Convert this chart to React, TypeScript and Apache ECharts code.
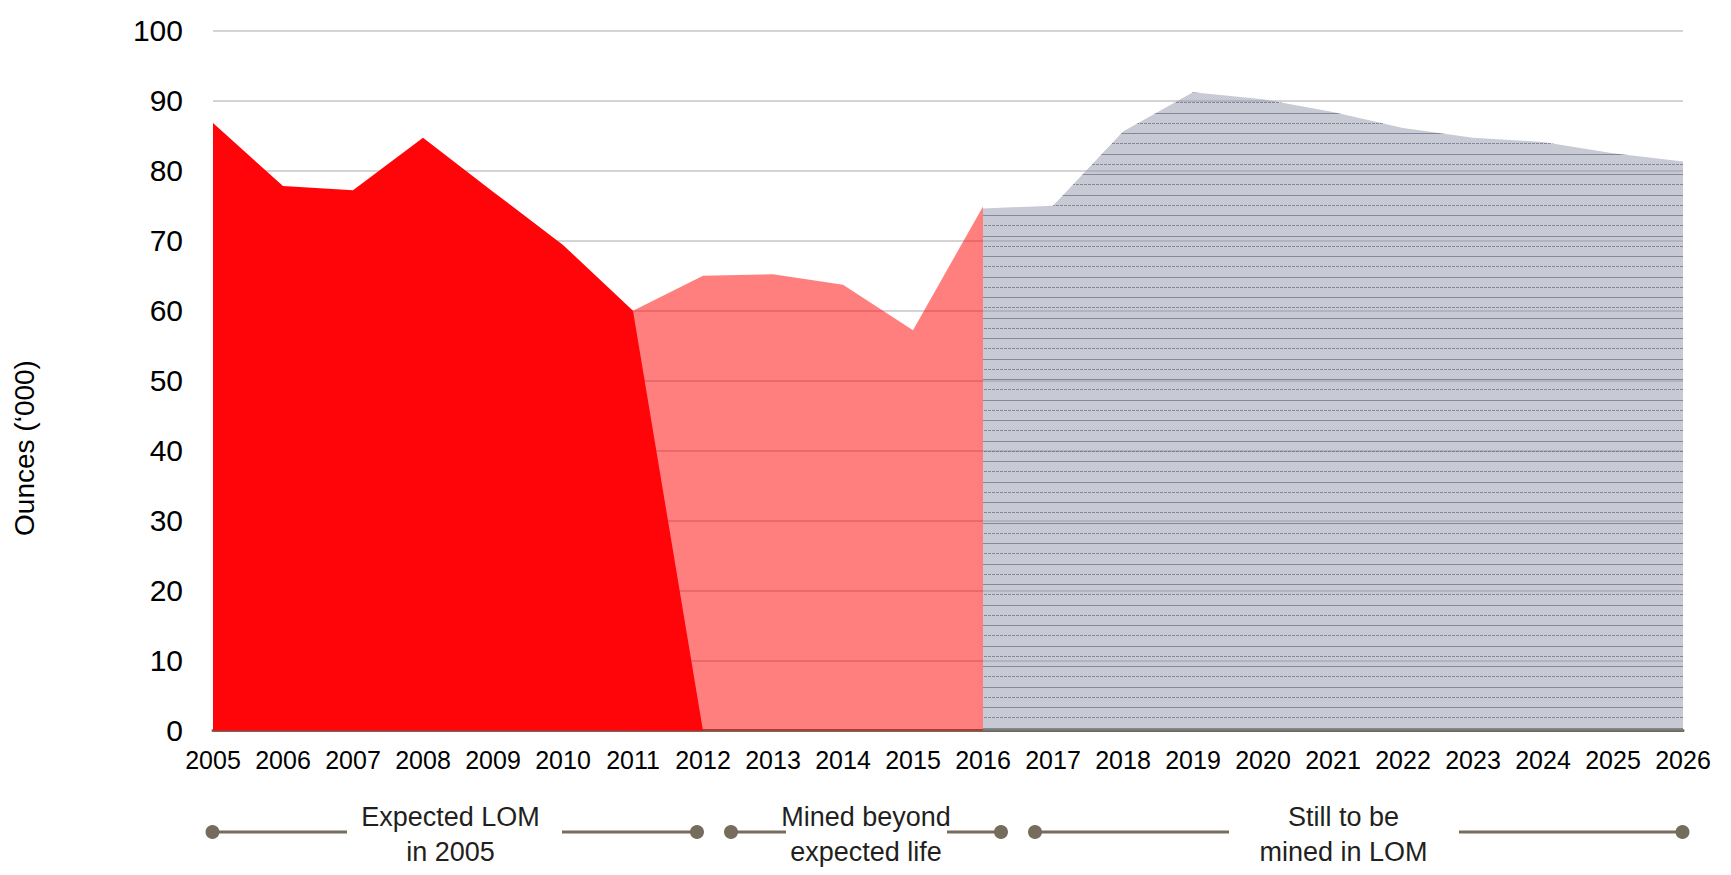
import React, { useEffect, useRef } from "react";
import * as echarts from "echarts";

const years = ["2005","2006","2007","2008","2009","2010","2011","2012","2013","2014","2015","2016","2017","2018","2019","2020","2021","2022","2023","2024","2025","2026"];
const expectedLom = [86.8, 77.8, 77.2, 84.7, 77.0, 69.4, 60.0, 0, null, null, null, null, null, null, null, null, null, null, null, null, null, null];
const minedBeyond = [null, null, null, null, null, null, 60.0, 65.0, 65.2, 63.7, 57.2, 74.9, null, null, null, null, null, null, null, null, null, null];
const stillToMine = [null, null, null, null, null, null, null, null, null, null, null, 74.6, 75.0, 85.6, 91.2, 90.2, 88.4, 86.1, 84.7, 84.1, 82.5, 81.3];
const bracketLabels = ["Expected LOM\nin 2005", "Mined beyond\nexpected life", "Still to be\nmined in LOM"];

const FONT = "Arial, 'Liberation Sans', sans-serif";
const BRACKET = "#766c5c";

function makeGreyPattern(): HTMLCanvasElement {
  const c = document.createElement("canvas");
  c.width = 4;
  c.height = 41;
  const ctx = c.getContext("2d")!;
  for (let y = 0; y < c.height; y++) {
    for (let x = 0; x < c.width; x++) {
      const a = (x + y) % 2 === 0 ? 0.5 : 0.46;
      ctx.fillStyle = `rgba(140,146,165,${a})`;
      ctx.fillRect(x, y, 1, 1);
    }
  }
  ctx.fillStyle = "rgba(65,69,97,0.5)";
  [0, 10, 20, 31].forEach((y, i) => {
    if (i % 2 === 1) {
      ctx.fillRect(0, y, 4, 1);
    } else {
      ctx.fillRect(0, y, 3, 1);
    }
  });
  return c;
}

function bracket(x1: number, x2: number, gapL: number, gapR: number, y: number, label: string, cx: number) {
  const lineStyle = { stroke: BRACKET, lineWidth: 3 };
  return [
    { type: "line", shape: { x1, y1: y, x2: gapL, y2: y }, style: lineStyle, silent: true },
    { type: "line", shape: { x1: gapR, y1: y, x2, y2: y }, style: lineStyle, silent: true },
    { type: "circle", shape: { cx: x1, cy: y, r: 7 }, style: { fill: BRACKET }, silent: true },
    { type: "circle", shape: { cx: x2, cy: y, r: 7 }, style: { fill: BRACKET }, silent: true },
    {
      type: "text",
      x: cx,
      y: y + 2,
      style: {
        text: label,
        fill: "#231f20",
        font: `27px ${FONT}`,
        fontSize: 27,
        fontFamily: FONT,
        lineHeight: 35,
        align: "center",
        verticalAlign: "middle",
      },
      silent: true,
    },
  ];
}

export default function App() {
  const ref = useRef<HTMLDivElement>(null);
  useEffect(() => {
    document.body.style.margin = "0";
    const chart = echarts.init(ref.current!, undefined, { renderer: "svg" });
    const greyPattern = makeGreyPattern();
    const by = 832;
    chart.setOption({
      animation: false,
      backgroundColor: "#ffffff",
      grid: { left: 213, right: 48, top: 30.7, bottom: 144.3, containLabel: false },
      xAxis: {
        type: "category",
        data: years,
        boundaryGap: false,
        axisLine: { show: true, lineStyle: { color: "#716857", width: 3 } },
        axisTick: { show: false },
        axisLabel: { color: "#000", fontSize: 25, fontFamily: FONT, margin: 17, interval: 0 },
        splitLine: { show: false },
      },
      yAxis: {
        type: "value",
        min: 0,
        max: 100,
        interval: 10,
        axisLine: { show: false },
        axisTick: { show: false },
        axisLabel: { color: "#000", fontSize: 30, fontFamily: FONT, margin: 30 },
        splitLine: { show: true, lineStyle: { color: "#c8c4c6", width: 1.5 } },
      },
      series: [
        {
          name: "Still to be mined in LOM",
          type: "line",
          data: stillToMine,
          showSymbol: false,
          symbol: "none",
          lineStyle: { width: 0, opacity: 0 },
          areaStyle: { color: { image: greyPattern, repeat: "repeat" }, opacity: 1 },
          z: 2,
        },
        {
          name: "Mined beyond expected life",
          type: "line",
          data: minedBeyond,
          showSymbol: false,
          symbol: "none",
          lineStyle: { width: 0, opacity: 0 },
          areaStyle: { color: "#ff0000", opacity: 0.5 },
          z: 3,
        },
        {
          name: "Expected LOM in 2005",
          type: "line",
          data: expectedLom,
          showSymbol: false,
          symbol: "none",
          lineStyle: { width: 0, opacity: 0 },
          areaStyle: { color: "#ff0509", opacity: 1 },
          z: 4,
        },
      ],
      graphic: [
        {
          type: "text",
          x: 24,
          y: 448,
          rotation: Math.PI / 2,
          style: {
            text: "Ounces (\u2018000)",
            fill: "#000",
            fontSize: 28,
            fontFamily: FONT,
            align: "center",
            verticalAlign: "middle",
          },
          silent: true,
        },
        ...bracket(212.5, 697, 347, 562, by, bracketLabels[0], 450.5),
        ...bracket(731, 1001, 786, 947, by, bracketLabels[1], 866),
        ...bracket(1035, 1682.5, 1229, 1459, by, bracketLabels[2], 1343.5),
      ],
    });
    return () => chart.dispose();
  }, []);
  return <div ref={ref} style={{ position: "fixed", left: 0, top: 0, width: 1731, height: 875 }} />;
}
